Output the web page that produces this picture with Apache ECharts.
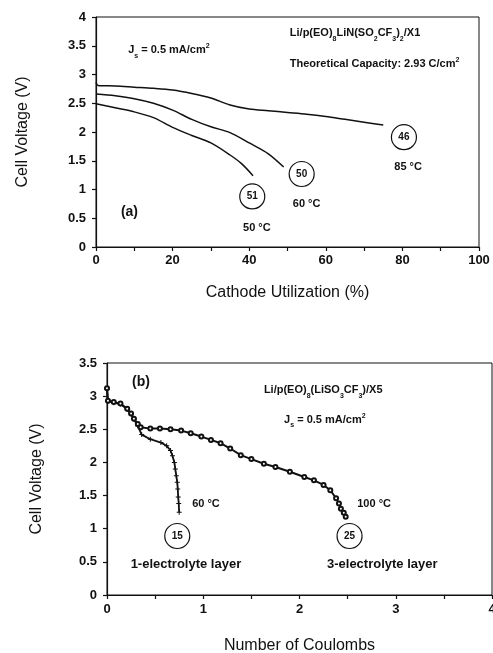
<!DOCTYPE html>
<html>
<head>
<meta charset="utf-8">
<script src="https://cdn.jsdelivr.net/npm/echarts@6/dist/echarts.min.js"></script>
<style>
  html, body { margin: 0; padding: 0; background: #fff; }
  #main { width: 493px; height: 653px; }
</style>
</head>
<body>
<div id="main"></div>
<script>
// (a) cathode utilization (%) vs cell voltage (V)
const util85 = [0, 0.5, 5, 10, 15, 20, 25, 30, 35, 40, 45, 50, 55, 60, 65, 70, 75];
const volt85 = [2.86, 2.81, 2.80, 2.78, 2.76, 2.73, 2.67, 2.59, 2.47, 2.40, 2.37, 2.34, 2.31, 2.27, 2.22, 2.17, 2.12];
const util60 = [0, 5, 10, 15, 20, 25, 30, 35, 40, 45, 49];
const volt60 = [2.66, 2.63, 2.58, 2.50, 2.38, 2.22, 2.09, 1.99, 1.81, 1.62, 1.39];
const util50 = [0, 5, 10, 15, 20, 25, 30, 35, 38, 41];
const volt50 = [2.49, 2.42, 2.35, 2.25, 2.08, 1.94, 1.81, 1.60, 1.45, 1.24];

// (b) number of coulombs vs cell voltage (V)
const coul3 = [0, 0.01, 0.07, 0.14, 0.21, 0.25, 0.28, 0.32, 0.35, 0.45, 0.55, 0.66, 0.77, 0.87, 0.98, 1.08, 1.18, 1.28, 1.39, 1.5, 1.63, 1.75, 1.9, 2.05, 2.15, 2.25, 2.32, 2.38, 2.41, 2.43, 2.46, 2.48];
const volt3 = [3.12, 2.93, 2.91, 2.89, 2.81, 2.74, 2.66, 2.58, 2.53, 2.51, 2.51, 2.50, 2.48, 2.44, 2.39, 2.34, 2.29, 2.21, 2.11, 2.05, 1.98, 1.93, 1.86, 1.78, 1.73, 1.66, 1.58, 1.46, 1.38, 1.30, 1.24, 1.18];
const coul1 = [0, 0.01, 0.07, 0.14, 0.21, 0.25, 0.28, 0.32, 0.36, 0.45, 0.56, 0.62, 0.66, 0.68, 0.70, 0.71, 0.72, 0.73, 0.735, 0.74, 0.745, 0.75];
const volt1 = [3.1, 2.92, 2.90, 2.88, 2.80, 2.73, 2.65, 2.55, 2.42, 2.35, 2.30, 2.25, 2.18, 2.10, 2.0, 1.9, 1.8, 1.7, 1.6, 1.48, 1.38, 1.25];

const zip = (xs, ys) => xs.map((x, i) => [x, ys[i]]);
const ink = '#111';
const font = 'Liberation Sans';

const rich = {
  n: { fontFamily: font, fontSize: 11, fontWeight: 'bold', color: ink },
  s: { fontFamily: font, fontSize: 7, fontWeight: 'bold', color: ink, padding: [11, 0, 0, 0] },
  u: { fontFamily: font, fontSize: 7, fontWeight: 'bold', color: ink, padding: [0, 0, 8, 0] }
};

function note(coord, text, size, align) {
  return {
    coord: coord,
    symbol: 'circle',
    symbolSize: 0,
    label: {
      show: true,
      position: align === 'left' ? 'right' : 'inside',
      distance: 0,
      formatter: text,
      fontFamily: font,
      fontSize: size,
      fontWeight: 'bold',
      color: ink,
      rich: rich
    }
  };
}

function ring(coord, text) {
  return {
    coord: coord,
    symbol: 'circle',
    symbolSize: 25,
    itemStyle: { color: '#fff', borderColor: ink, borderWidth: 1.2 },
    label: {
      show: true, position: 'inside', formatter: text,
      fontFamily: font, fontSize: 10, fontWeight: 'bold', color: ink
    }
  };
}

const axisCommon = {
  axisLine: { lineStyle: { color: ink, width: 1.2 } },
  axisTick: { inside: false, length: 4, lineStyle: { color: ink, width: 1.2 } },
  splitLine: { show: false },
  axisLabel: { fontFamily: font, fontSize: 13, fontWeight: 'bold', color: ink },
  nameTextStyle: { fontFamily: font, fontSize: 16, color: ink },
  nameLocation: 'middle'
};

const curve = { type: 'line', showSymbol: false, smooth: 0.3, lineStyle: { color: ink, width: 1.5 }, silent: true };

const chart = echarts.init(document.getElementById('main'));
chart.setOption({
  animation: false,
  backgroundColor: '#fff',
  grid: [
    { left: 96, right: 14, top: 17, height: 230, show: true, borderColor: ink, borderWidth: 1, outerBoundsMode: 'none', containLabel: false },
    { left: 107, right: 1, top: 363, height: 232, show: true, borderColor: ink, borderWidth: 1, outerBoundsMode: 'none', containLabel: false }
  ],
  xAxis: [
    Object.assign({}, axisCommon, {
      gridIndex: 0, type: 'value', min: 0, max: 100, interval: 20,
      minorTick: { show: true, splitNumber: 2, length: 4, lineStyle: { color: ink, width: 1.2 } },
      name: 'Cathode Utilization (%)', nameGap: 38,
      axisLabel: Object.assign({}, axisCommon.axisLabel, { margin: 7 })
    }),
    Object.assign({}, axisCommon, {
      gridIndex: 1, type: 'value', min: 0, max: 4, interval: 1,
      minorTick: { show: true, splitNumber: 2, length: 4, lineStyle: { color: ink, width: 1.2 } },
      name: 'Number of Coulombs', nameGap: 43,
      axisLabel: Object.assign({}, axisCommon.axisLabel, { margin: 8 })
    })
  ],
  yAxis: [
    Object.assign({}, axisCommon, {
      gridIndex: 0, type: 'value', min: 0, max: 4, interval: 0.5,
      name: 'Cell Voltage (V)', nameGap: 65,
      axisLabel: Object.assign({}, axisCommon.axisLabel, { margin: 10 })
    }),
    Object.assign({}, axisCommon, {
      gridIndex: 1, type: 'value', min: 0, max: 3.5, interval: 0.5,
      name: 'Cell Voltage (V)', nameGap: 62,
      axisLabel: Object.assign({}, axisCommon.axisLabel, { margin: 10 })
    })
  ],
  series: [
    Object.assign({}, curve, {
      name: '85 °C', xAxisIndex: 0, yAxisIndex: 0, data: zip(util85, volt85),
      markPoint: {
        silent: true,
        data: [
          ring([40.8, 0.88], '51'), note([42, 0.33], '50 °C', 11),
          ring([53.7, 1.27], '50'), note([55, 0.75], '60 °C', 11),
          ring([80.4, 1.91], '46'), note([81.5, 1.39], '85 °C', 11),
          note([6.5, 0.6], '(a)', 14, 'left'),
          note([8.4, 3.42], '{n|J}{s|s}{n| = 0.5 mA/cm}{u|2}', 10, 'left'),
          note([50.6, 3.72], '{n|Li/p(EO)}{s|8}{n|LiN(SO}{s|2}{n|CF}{s|3}{n|)}{s|2}{n|/X1}', 11, 'left'),
          note([50.6, 3.19], '{n|Theoretical Capacity: 2.93 C/cm}{u|2}', 11, 'left')
        ]
      }
    }),
    Object.assign({}, curve, { name: '60 °C', xAxisIndex: 0, yAxisIndex: 0, data: zip(util60, volt60) }),
    Object.assign({}, curve, { name: '50 °C', xAxisIndex: 0, yAxisIndex: 0, data: zip(util50, volt50) }),
    {
      type: 'line', name: '1-electrolyte layer', xAxisIndex: 1, yAxisIndex: 1,
      data: zip(coul1, volt1), silent: true,
      symbol: 'path://M4,0H6V10H4ZM0,4H10V6H0Z', symbolSize: 5, showSymbol: true,
      itemStyle: { color: ink },
      lineStyle: { color: ink, width: 1.8 }
    },
    {
      type: 'line', name: '3-electrolyte layer', xAxisIndex: 1, yAxisIndex: 1,
      data: zip(coul3, volt3), silent: true,
      symbol: 'emptyCircle', symbolSize: 4, showSymbol: true,
      itemStyle: { color: ink, borderColor: ink, borderWidth: 1 },
      lineStyle: { color: ink, width: 2 },
      markPoint: {
        silent: true,
        data: [
          note([0.26, 3.21], '(b)', 14, 'left'),
          note([1.63, 3.09], '{n|Li/p(EO)}{s|8}{n|(LiSO}{s|3}{n|CF}{s|3}{n|)/X5}', 12, 'left'),
          note([1.84, 2.64], '{n|J}{s|s}{n| = 0.5 mA/cm}{u|2}', 10, 'left'),
          note([0.885, 1.38], '60 °C', 11, 'left'),
          note([2.6, 1.38], '100 °C', 11, 'left'),
          ring([0.73, 0.89], '15'),
          ring([2.52, 0.89], '25'),
          note([0.82, 0.46], '1-electrolyte layer', 13),
          note([2.86, 0.46], '3-electrolyte layer', 13)
        ]
      }
    }
  ]
});
</script>
</body>
</html>
